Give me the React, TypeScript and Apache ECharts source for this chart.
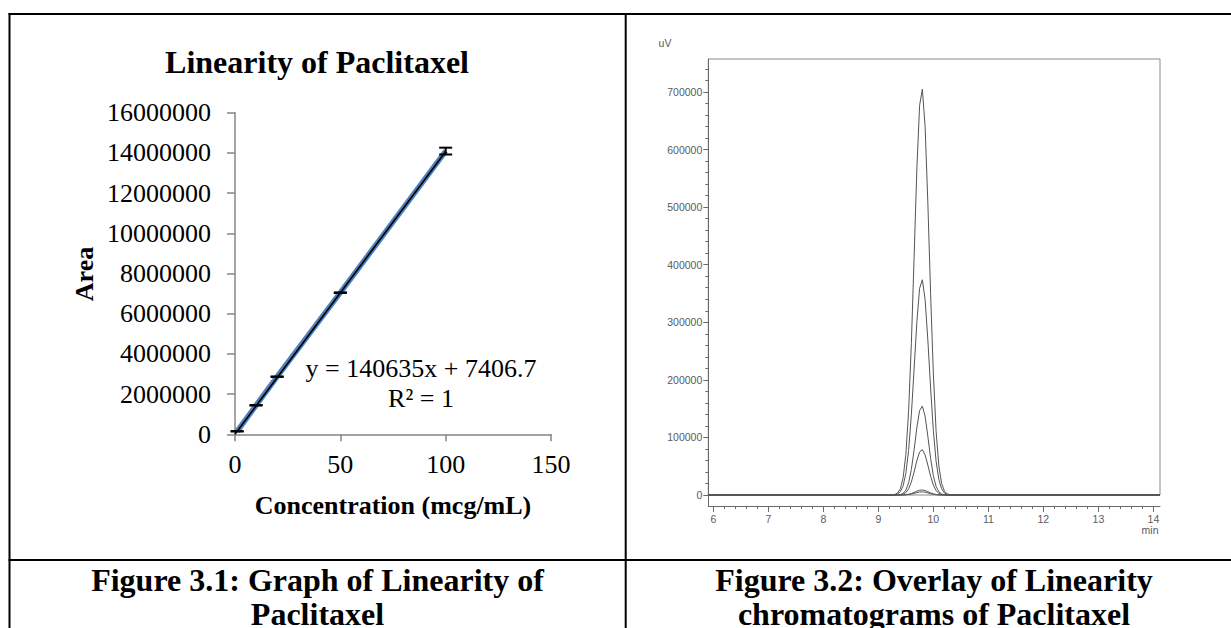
import React, { useEffect, useRef } from "react";
import * as echarts from "echarts";

// ---------- Linearity data (Figure 3.1) ----------
const concentration = [1, 10, 20, 50, 100];
const areaValues = [150000, 1443000, 2866000, 7045000, 14090000];
const areaErrors = [10000, 10000, 10000, 15000, 170000];
const trendX = [0, 100];
const trendY = [7406.7, 14070906.7];
const equationText = "y = 140635x + 7406.7";
const r2Text = "R² = 1";

// ---------- Chromatogram data (Figure 3.2) ----------
const timesMin = [5.909, 9.2, 9.3, 9.35, 9.4, 9.45, 9.5, 9.55, 9.6, 9.65, 9.7, 9.75, 9.8, 9.85, 9.9, 9.95, 10.0, 10.05, 10.1, 10.15, 10.2, 10.25, 10.3, 10.4, 14.12];
const trace100 = [0, 0, 1000, 3500, 10900, 29700, 70400, 145600, 262600, 412900, 566100, 676600, 704900, 640500, 507300, 350300, 210700, 110600, 50600, 20200, 7000, 2100, 600, 0, 0];
const trace50 = [0, 0, 500, 1850, 5800, 15800, 37400, 77300, 139300, 219000, 300300, 358900, 373900, 339800, 269100, 185800, 111800, 58700, 26900, 10700, 3700, 1100, 300, 0, 0];
const trace20 = [0, 0, 40, 190, 790, 2800, 8400, 21000, 44300, 78500, 117000, 146600, 154500, 136800, 101900, 63700, 33500, 14800, 5500, 1700, 450, 100, 0, 0, 0];
const trace10 = [0, 0, 20, 95, 400, 1430, 4260, 10700, 22600, 40000, 59600, 74700, 78700, 69700, 51900, 32500, 17100, 7550, 2800, 880, 230, 50, 0, 0, 0];
const trace1 = [0, 0, 0, 0, 45, 160, 470, 1190, 2510, 4460, 6640, 8320, 8770, 7770, 5780, 3620, 1900, 840, 310, 100, 30, 0, 0, 0, 0];
const trace05 = [0, 0, 0, 0, 30, 100, 300, 740, 1570, 2780, 4150, 5200, 5480, 4850, 3610, 2260, 1190, 530, 195, 60, 20, 0, 0, 0, 0];
const traces = [trace100, trace50, trace20, trace10, trace1, trace05];

const chromYMajor = [0, 100000, 200000, 300000, 400000, 500000, 600000, 700000];
const chromYMinor = [-20000, 20000, 40000, 60000, 80000, 120000, 140000, 160000, 180000, 220000, 240000, 260000, 280000, 320000, 340000, 360000, 380000, 420000, 440000, 460000, 480000, 520000, 540000, 560000, 580000, 620000, 640000, 660000, 680000, 720000, 740000];
const chromXMajor = [6, 7, 8, 9, 10, 11, 12, 13, 14];
const chromXMinor = [6.2, 6.4, 6.6, 6.8, 7.2, 7.4, 7.6, 7.8, 8.2, 8.4, 8.6, 8.8, 9.2, 9.4, 9.6, 9.8, 10.2, 10.4, 10.6, 10.8, 11.2, 11.4, 11.6, 11.8, 12.2, 12.4, 12.6, 12.8, 13.2, 13.4, 13.6, 13.8];

const captionLeft = ["Figure 3.1: Graph of Linearity of", "Paclitaxel"];
const captionRight = ["Figure 3.2: Overlay of Linearity", "chromatograms of Paclitaxel"];

const SERIF = '"Liberation Serif", "Times New Roman", serif';
const SANS = '"Liberation Sans", Arial, sans-serif';

function txt(x: number, y: number, text: string, size: number, bold: boolean, extra: any = {}) {
  return {
    type: "text",
    x,
    y,
    rotation: extra.rotation || 0,
    style: {
      text,
      fontSize: size,
      fontWeight: bold ? "bold" : "normal",
      fontFamily: extra.family || SERIF,
      fill: extra.fill || "#000",
      align: extra.align || "center",
      verticalAlign: "middle",
      textAlign: extra.align || "center",
      textVerticalAlign: "middle",
    },
  };
}

function hline(x1: number, x2: number, y: number) {
  return { type: "line", shape: { x1, y1: y, x2, y2: y }, style: { stroke: "#000", lineWidth: 2 } };
}
function vline(x: number, y1: number, y2: number) {
  return { type: "line", shape: { x1: x, y1, x2: x, y2 }, style: { stroke: "#000", lineWidth: 2 } };
}

export default function App() {
  const ref = useRef<HTMLDivElement>(null);

  useEffect(() => {
    if (!ref.current) return;
    const chart = echarts.init(ref.current, null, { renderer: "svg" });

    const chromAxisColor = "#6a6a6a";
    const chromLabel = { fontFamily: SANS, fontSize: 10.5, color: "#5a5a5a" };

    const option: any = {
      animation: false,
      backgroundColor: "#fff",
      grid: [
        { left: 235, top: 112.7, width: 316, height: 321.6, containLabel: false },
        { left: 708.3, top: 59, width: 451.7, height: 447, containLabel: false },
        { left: 708.3, top: 59, width: 451.7, height: 436, show: true, borderColor: "#8a8a8a", borderWidth: 1, backgroundColor: "transparent", containLabel: false },
      ],
      xAxis: [
        {
          gridIndex: 0, type: "value", min: 0, max: 150, interval: 50,
          axisLine: { show: true, onZero: false, lineStyle: { color: "#868686", width: 1.5 } },
          axisTick: { show: true, inside: false, length: 7, lineStyle: { color: "#868686", width: 1.5 } },
          axisLabel: { margin: 17, fontFamily: SERIF, fontSize: 26, color: "#000" },
          splitLine: { show: false },
        },
        {
          gridIndex: 1, type: "value", min: 5.909, max: 14.12, position: "bottom",
          axisLine: { show: true, onZero: false, lineStyle: { color: chromAxisColor, width: 1 } },
          axisTick: { show: true, length: 6, customValues: chromXMajor, lineStyle: { color: chromAxisColor } },
          axisLabel: { margin: 7, customValues: chromXMajor, ...chromLabel },
          splitLine: { show: false },
        },
        {
          gridIndex: 1, type: "value", min: 5.909, max: 14.12, position: "bottom",
          axisLine: { show: false, onZero: false },
          axisTick: { show: true, length: 3, customValues: chromXMinor, lineStyle: { color: chromAxisColor } },
          axisLabel: { show: false },
          splitLine: { show: false },
        },
        { gridIndex: 2, type: "value", min: 5.909, max: 14.12, show: false },
      ],
      yAxis: [
        {
          gridIndex: 0, type: "value", min: 0, max: 16000000, interval: 2000000,
          axisLine: { show: true, onZero: false, lineStyle: { color: "#868686", width: 1.5 } },
          axisTick: { show: true, inside: false, length: 8, lineStyle: { color: "#868686", width: 1.5 } },
          axisLabel: { margin: 24, fontFamily: SERIF, fontSize: 26, color: "#000", formatter: (v: number) => String(v) },
          splitLine: { show: false },
        },
        {
          gridIndex: 1, type: "value", min: -19100, max: 757300, position: "left",
          axisLine: { show: true, onZero: false, lineStyle: { color: chromAxisColor, width: 1 } },
          axisTick: { show: true, length: 5, customValues: chromYMajor, lineStyle: { color: chromAxisColor } },
          axisLabel: { margin: 6, customValues: chromYMajor, formatter: (v: number) => String(v), ...chromLabel },
          splitLine: { show: false },
        },
        {
          gridIndex: 1, type: "value", min: -19100, max: 757300, position: "left",
          axisLine: { show: false, onZero: false },
          axisTick: { show: true, length: 3, customValues: chromYMinor, lineStyle: { color: chromAxisColor } },
          axisLabel: { show: false },
          splitLine: { show: false },
        },
        { gridIndex: 2, type: "value", min: 0, max: 757300, show: false },
      ],
      series: [
        {
          name: "Area",
          type: "line",
          xAxisIndex: 0, yAxisIndex: 0,
          data: concentration.map((c, i) => [c, areaValues[i]]),
          showSymbol: false,
          lineStyle: { color: "#4F81BD", width: 5.5 },
          z: 2,
        },
        {
          name: "Linear (Area)",
          type: "line",
          xAxisIndex: 0, yAxisIndex: 0,
          data: trendX.map((x, i) => [x, trendY[i]]),
          showSymbol: false,
          lineStyle: { color: "#000", width: 1.6 },
          z: 3,
        },
        {
          name: "Error",
          type: "custom",
          xAxisIndex: 0, yAxisIndex: 0,
          data: concentration.map((c, i) => [c, areaValues[i] - areaErrors[i], areaValues[i] + areaErrors[i]]),
          encode: { x: 0, y: [1, 2] },
          z: 4,
          renderItem: (params: any, api: any) => {
            const x = api.value(0);
            const lo = api.coord([x, api.value(1)]);
            const hi = api.coord([x, api.value(2)]);
            const w = 6.5;
            const st = { stroke: "#000", lineWidth: 2 };
            return {
              type: "group",
              children: [
                { type: "line", shape: { x1: lo[0], y1: lo[1], x2: hi[0], y2: hi[1] }, style: st },
                { type: "line", shape: { x1: lo[0] - w, y1: lo[1], x2: lo[0] + w, y2: lo[1] }, style: st },
                { type: "line", shape: { x1: hi[0] - w, y1: hi[1], x2: hi[0] + w, y2: hi[1] }, style: st },
              ],
            };
          },
        },
        ...traces.map((tr, k) => ({
          name: "Trace " + (k + 1),
          type: "line",
          xAxisIndex: 1, yAxisIndex: 1,
          data: timesMin.map((t, i) => [t, tr[i]]),
          showSymbol: false,
          smooth: false,
          lineStyle: { color: "#555", width: 1 },
          z: 3,
        })),
      ],
      graphic: [
        // table borders
        hline(8.5, 1231, 14),
        vline(9.5, 13, 628),
        vline(625.7, 13, 628),
        hline(8.5, 1231, 560),
        // left chart texts
        txt(317, 61.7, "Linearity of Paclitaxel", 32, true),
        txt(84, 274, "Area", 26, true, { rotation: Math.PI / 2 }),
        txt(393, 505, "Concentration (mcg/mL)", 26, true),
        txt(421, 368, equationText, 26, false),
        txt(421, 398, r2Text, 26, false),
        // chromatogram texts
        txt(665, 43, "uV", 10.5, false, { family: SANS, fill: "#5a5a5a" }),
        txt(1150, 530, "min", 10.5, false, { family: SANS, fill: "#5a5a5a" }),
        // captions
        txt(317.5, 580, captionLeft[0], 32, true),
        txt(317.5, 614, captionLeft[1], 32, true),
        txt(934, 580, captionRight[0], 32, true),
        txt(934, 614, captionRight[1], 32, true),
      ],
    };

    chart.setOption(option);
    return () => chart.dispose();
  }, []);

  return (
    <div
      ref={ref}
      style={{ position: "absolute", left: 0, top: 0, width: 1231, height: 628, background: "#fff" }}
    />
  );
}
